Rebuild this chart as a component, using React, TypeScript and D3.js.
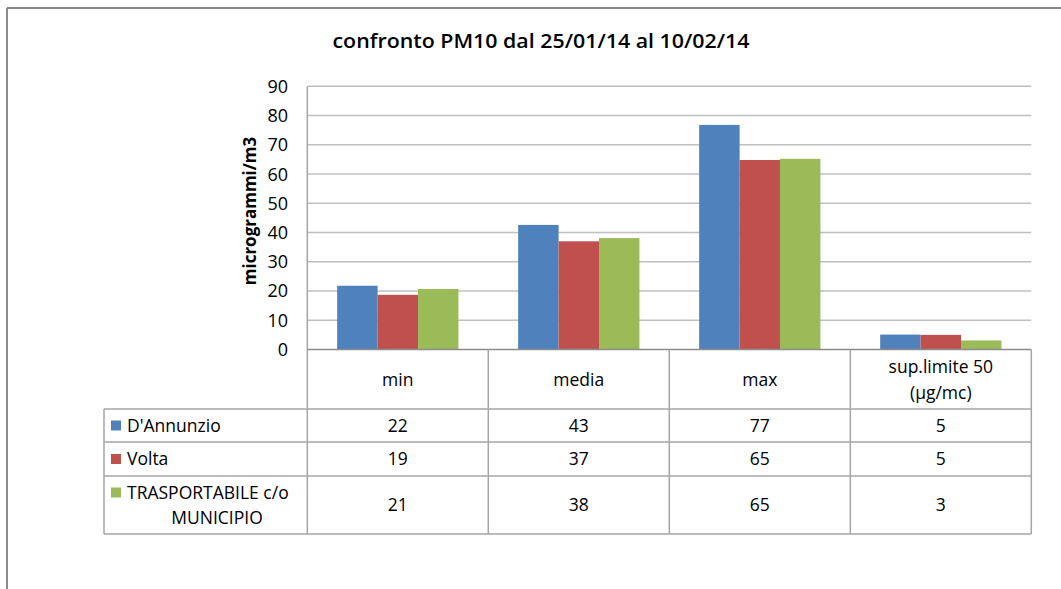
import React from "react";
import * as d3 from "d3";

const title = "confronto PM10 dal 25/01/14 al 10/02/14";
const yLabel = "microgrammi/m3";
const categories = ["min", "media", "max", "sup.limite 50\n(µg/mc)"];
const seriesNames = ["D'Annunzio", "Volta", "TRASPORTABILE c/o\nMUNICIPIO"];
const colors = ["#4F81BD", "#C0504D", "#9BBB59"];
const dAnnunzio = [21.8, 42.6, 76.8, 5.1];
const volta = [18.7, 37.0, 64.8, 5.0];
const trasportabile = [20.7, 38.1, 65.2, 3.1];
const tableDAnnunzio = ["22", "43", "77", "5"];
const tableVolta = ["19", "37", "65", "5"];
const tableTrasportabile = ["21", "38", "65", "3"];
const yTicks = [0, 10, 20, 30, 40, 50, 60, 70, 80, 90];

const seriesValues = [dAnnunzio, volta, trasportabile];
const tableValues = [tableDAnnunzio, tableVolta, tableTrasportabile];

const W = 1061;
const H = 589;
const FONT = "'Open Sans', Lato, sans-serif";
const FS = 17.5;

export default function App() {
  const plotLeft = 307.3;
  const plotRight = 1031.3;
  const plotTop = 86.3;
  const plotBottom = 349.5;
  const x = d3.scaleBand<string>().domain(categories).range([plotLeft, plotRight]).paddingInner(0.33).paddingOuter(0.165);
  const colBand = d3.scaleBand<string>().domain(categories).range([plotLeft, plotRight]).padding(0);
  const xs = d3.scaleBand<number>().domain([0, 1, 2]).range([0, x.bandwidth()]).padding(0);
  const y = d3.scaleLinear().domain([0, 90]).range([plotBottom, plotTop]);

  const rowLines = [plotBottom, 409, 442, 476, 534];
  const tableLeft = 104;
  const gridColor = "#c0c0c0";
  const tableColor = "#a6a6a6";

  return (
    <div style={{ position: "fixed", left: 0, top: 0 }}>
      <svg width={W} height={H} style={{ display: "block", background: "#fff" }}>
        {/* frame */}
        <line x1={7} y1={8} x2={W} y2={8} stroke="#8a8a8a" strokeWidth={2} />
        <line x1={7} y1={8} x2={7} y2={H} stroke="#8a8a8a" strokeWidth={2} />

        <text x={541} y={48} textAnchor="middle" fontFamily={FONT} fontWeight="600" fontSize={19} fill="#000" textLength={417} lengthAdjust="spacingAndGlyphs">
          {title}
        </text>

        {/* gridlines */}
        {yTicks.filter((t) => t > 0).map((t) => (
          <line key={t} x1={plotLeft} x2={plotRight} y1={y(t)} y2={y(t)} stroke={gridColor} strokeWidth={1.5} />
        ))}
        {yTicks.map((t) => (
          <text key={"t" + t} x={288} y={y(t)} dy="0.36em" textAnchor="end" fontFamily={FONT} fontSize={18} fill="#000">
            {t}
          </text>
        ))}
        <text transform={`translate(256, 211) rotate(-90)`} textAnchor="middle" fontFamily={FONT} fontWeight="bold" fontSize={17} fill="#000">
          {yLabel}
        </text>

        {/* bars */}
        {categories.map((c, ci) => (
          <g key={c}>
            {seriesValues.map((vals, si) => (
              <rect key={si} x={(x(c) as number) + (xs(si) as number)} y={y(vals[ci])} width={xs.bandwidth()} height={y(0) - y(vals[ci])} fill={colors[si]} />
            ))}
          </g>
        ))}

        {/* table lines */}
        <line x1={plotLeft} x2={plotLeft} y1={plotTop} y2={534} stroke={tableColor} strokeWidth={1.5} />
        <line x1={plotLeft} x2={plotRight} y1={plotBottom} y2={plotBottom} stroke="#8c8c8c" strokeWidth={1.5} />
        {rowLines.slice(1).map((ry) => (
          <line key={ry} x1={tableLeft} x2={plotRight} y1={ry} y2={ry} stroke={tableColor} strokeWidth={1.5} />
        ))}
        <line x1={tableLeft} x2={tableLeft} y1={409} y2={534} stroke={tableColor} strokeWidth={1.5} />
        {categories.map((c) => (
          <line key={"v" + c} x1={(colBand(c) as number) + colBand.bandwidth()} x2={(colBand(c) as number) + colBand.bandwidth()} y1={plotBottom} y2={534} stroke={tableColor} strokeWidth={1.5} />
        ))}

        {/* header labels */}
        {categories.map((c) => {
          const lines = c.split("\n");
          const cx = (colBand(c) as number) + colBand.bandwidth() / 2;
          const cy = (rowLines[0] + rowLines[1]) / 2;
          return (
            <text key={"h" + c} x={cx} y={cy - ((lines.length - 1) * 26) / 2} textAnchor="middle" fontFamily={FONT} fontSize={FS} fill="#000">
              {lines.map((l, i) => (
                <tspan key={i} x={cx} dy={i === 0 ? "0.36em" : 26}>
                  {l}
                </tspan>
              ))}
            </text>
          );
        })}

        {/* rows */}
        {seriesNames.map((name, si) => {
          const top = rowLines[si + 1];
          const bottom = rowLines[si + 2];
          const cy = (top + bottom) / 2;
          const lines = name.split("\n");
          const ly = cy - ((lines.length - 1) * 25) / 2;
          return (
            <g key={name}>
              <rect x={111} y={ly - 5} width={10} height={10} fill={colors[si]} />
              <text x={127} y={ly} dy="0.36em" fontFamily={FONT} fontSize={FS} fill="#000">
                {lines[0]}
              </text>
              {lines.slice(1).map((l, i) => (
                <text key={i} x={217} y={ly + 25 * (i + 1)} dy="0.36em" textAnchor="middle" fontFamily={FONT} fontSize={FS} fill="#000">
                  {l}
                </text>
              ))}
              {categories.map((c, ci) => (
                <text key={c} x={(colBand(c) as number) + colBand.bandwidth() / 2} y={cy} dy="0.36em" textAnchor="middle" fontFamily={FONT} fontSize={FS} fill="#000">
                  {tableValues[si][ci]}
                </text>
              ))}
            </g>
          );
        })}
      </svg>
    </div>
  );
}
